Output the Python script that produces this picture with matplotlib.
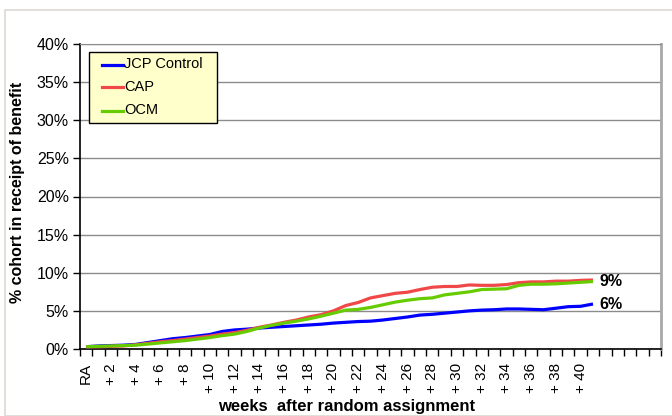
import matplotlib
matplotlib.use("Agg")
import matplotlib.pyplot as plt
from matplotlib.patches import Rectangle
from matplotlib.lines import Line2D
from matplotlib.ticker import FixedLocator, NullFormatter

plt.rcParams['font.family'] = ['Liberation Sans', 'DejaVu Sans']

# Weekly share of each cohort in receipt of benefit (%), RA then +1 .. +41 weeks
weeks = ["RA"] + [f"+ {w}" for w in range(1, 42)]
jcp_control = [0.3, 0.4, 0.45, 0.5, 0.6, 0.85, 1.1, 1.35, 1.5, 1.7, 1.9, 2.3, 2.5, 2.6,
               2.75, 2.85, 2.95, 3.05, 3.15, 3.25, 3.4, 3.5, 3.6, 3.65, 3.8, 4.0, 4.2,
               4.45, 4.55, 4.7, 4.85, 5.0, 5.1, 5.15, 5.25, 5.25, 5.2, 5.15, 5.35, 5.55,
               5.6, 5.9]
cap = [0.3, 0.3, 0.35, 0.4, 0.55, 0.75, 0.95, 1.1, 1.3, 1.5, 1.7, 1.95, 2.15, 2.45,
       2.85, 3.15, 3.5, 3.8, 4.2, 4.5, 5.0, 5.7, 6.1, 6.7, 7.0, 7.3, 7.45, 7.8, 8.1,
       8.2, 8.2, 8.4, 8.35, 8.35, 8.45, 8.7, 8.8, 8.8, 8.9, 8.9, 9.0, 9.05]
ocm = [0.3, 0.35, 0.4, 0.45, 0.5, 0.65, 0.8, 0.95, 1.1, 1.3, 1.5, 1.75, 1.95, 2.3,
       2.75, 3.1, 3.4, 3.65, 3.95, 4.3, 4.7, 5.1, 5.2, 5.45, 5.8, 6.15, 6.4, 6.6, 6.7,
       7.1, 7.3, 7.5, 7.8, 7.85, 7.9, 8.35, 8.5, 8.5, 8.55, 8.65, 8.75, 8.85]
series_names = ["JCP Control", "CAP", "OCM"]
series_colors = ["#0000ff", "#f04848", "#66cc00"]
end_labels = ["9%", "6%"]
n_slots = 47  # category slots on the axis (data fills the first 42)

W, H = 672, 416
fig = plt.figure(figsize=(W / 100, H / 100), dpi=100)
fig.patch.set_facecolor("white")


def fx(px):
    return px / W


def fy(py):
    return 1 - py / H


# light outer chart-area border
fig.patches.append(Rectangle((fx(4.5), 0), 1, fy(9.5), transform=fig.transFigure,
                             facecolor="none", edgecolor="#ddd9d3", linewidth=1.2))

ax = fig.add_axes([fx(80), fy(349), (661 - 80) / W, (349 - 44) / H])
x = list(range(len(weeks)))
for vals, name, col, z in zip([jcp_control, cap, ocm], series_names, series_colors, [3, 3, 4]):
    ax.plot(x, vals, color=col, lw=2.3, label=name, zorder=z, solid_capstyle="butt")

ax.set_xlim(-0.5, n_slots - 0.5)
ax.set_ylim(0, 40)

# y axis
yt = list(range(0, 41, 5))
ax.set_yticks(yt)
ax.set_yticklabels([f"{v}%" for v in yt], fontsize=11.5)
ax.grid(axis="y", color="#8c8c8c", lw=1.0)
ax.set_axisbelow(True)
ax.tick_params(axis="y", direction="out", length=5, width=1, pad=3)

# x axis: tick marks on category boundaries, labels every other week
ax.xaxis.set_major_locator(FixedLocator([i - 0.5 for i in range(n_slots + 1)]))
ax.xaxis.set_major_formatter(NullFormatter())
ax.tick_params(axis="x", which="major", direction="out", length=5, width=1)
label_pos = list(range(0, 41, 2))
ax.set_xticks(label_pos, minor=True)
ax.set_xticklabels([weeks[i] for i in label_pos], minor=True, rotation=90,
                   fontsize=11, va="top", ha="center")
ax.tick_params(axis="x", which="minor", length=0, pad=10)

for side in ("left", "bottom"):
    ax.spines[side].set_color("black")
    ax.spines[side].set_linewidth(1.2)
ax.spines["top"].set_color("#8c8c8c")
ax.spines["right"].set_color("#a8a8a8")
ax.spines["right"].set_linewidth(2)

fig.text(fx(18), fy(192), "% cohort in receipt of benefit", rotation=90, ha="center",
         va="center", fontsize=11.5, fontweight="bold")
fig.text(fx(347), fy(407), "weeks  after random assignment", ha="center",
         va="center", fontsize=12, fontweight="bold")

# end-of-line value labels
ax.text(len(weeks) - 1 + 0.55, cap[-1] - 0.15, end_labels[0], fontsize=11.5,
        fontweight="bold", va="center", ha="left")
ax.text(len(weeks) - 1 + 0.55, jcp_control[-1], end_labels[1], fontsize=11.5,
        fontweight="bold", va="center", ha="left")

# legend box
fig.patches.append(Rectangle((fx(89), fy(123)), (217 - 89) / W, (123 - 52) / H,
                             transform=fig.transFigure, facecolor="#ffffcc",
                             edgecolor="black", linewidth=1, zorder=5))
for row, (name, col) in enumerate(zip(series_names, series_colors)):
    yy = fy([64.5, 87, 110.5][row])
    fig.add_artist(Line2D([fx(101.5), fx(123)], [yy, yy], color=col, lw=2.3,
                          transform=fig.transFigure, zorder=6))
    fig.text(fx(124.5), yy, name, ha="left", va="center", fontsize=10.5, zorder=6)

fig.savefig("out.png", dpi=100)
